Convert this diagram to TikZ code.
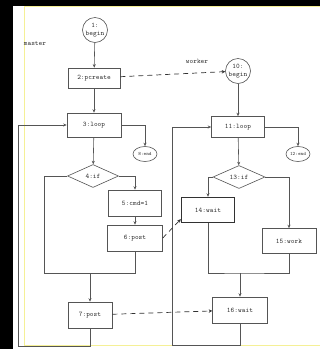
\documentclass[tikz,border=0pt]{standalone}
\usetikzlibrary{shapes, arrows.meta, positioning}
\definecolor{scanline}{RGB}{85, 85, 85}
\definecolor{scanink}{RGB}{50, 50, 50}
\definecolor{scanyellow}{RGB}{245, 240, 150}
\tikzset{
    stepbox/.style={
        rectangle, draw=scanline, fill=white, text=scanink, line width=0.6pt,
        font=\ttfamily\scriptsize, minimum width=54pt, minimum height=25pt, inner sep=1pt
    },
    testbox/.style={
        diamond, draw=scanline, fill=white, text=scanink, font=\ttfamily\scriptsize,
        line width=0.6pt, minimum width=51pt, minimum height=23pt, inner sep=0pt
    },
    startbox/.style={
        circle, draw=scanline, fill=white, text=scanink, align=center, line width=0.6pt,
        font=\ttfamily\scriptsize, minimum size=25pt, inner sep=0pt
    },
    stopbox/.style={
        ellipse, draw=scanline, fill=white, text=scanink, font=\ttfamily\tiny,
        line width=0.6pt, minimum width=24pt, minimum height=15pt, inner sep=0pt
    },
    arrow/.style={-{Stealth[length=3.5pt, width=3pt]}, line width=0.6pt, color=scanline},
    link/.style={line width=0.6pt, color=scanline},
    signal/.style={-{Stealth[length=3.5pt, width=3.5pt]}, dashed, dash pattern=on 5pt off 4pt, line width=0.7pt, color=scanink},
}
\begin{document}
\begin{tikzpicture}[x=1pt, y=-1pt]
                \useasboundingbox (0, 0) rectangle (320, 349);
                % Scan border
                \fill[black] (0, 0) rectangle (320, 349);
                \fill[white] (13, 6) rectangle (320, 349);
                \draw[scanyellow, line width=0.8pt] (320, 6) -- (24, 6) -- (24, 345) -- (320, 345);

                % Master
                \node[text=scanink, font=\ttfamily\scriptsize] (master) at (35, 44) {master};
                \node[startbox] (begin1) at (95, 30) {1:\\begin};
                \node[stepbox, minimum width=52pt, minimum height=20pt] (pcreate2) at (94, 78) {2:pcreate};
                \node[stepbox, minimum height=24pt] (loop3) at (94, 125) {3:loop};
                \node[stopbox] (end8) at (145, 154) {8:end};
                \node[testbox] (if4) at (93, 176) {4:if};
                \node[stepbox, minimum width=53pt, minimum height=26pt] (cmd5) at (135, 203) {5:cmd=1};
                \node[stepbox, minimum width=55pt, minimum height=26pt] (post6) at (135, 238) {6:post};
                \node[stepbox, minimum width=44pt, minimum height=26pt] (post7) at (90, 315) {7:post};
                \coordinate (mL) at (44, 273);
                \coordinate (mJ) at (90, 273);
                \coordinate (mB) at (18, 346);

                % Worker
                \node[text=scanink, font=\ttfamily\scriptsize] (worker) at (197, 61) {worker};
                \node[startbox] (begin10) at (238, 71) {10:\\begin};
                \node[stepbox, minimum width=53pt, minimum height=21pt] (loop11) at (238, 127) {11:loop};
                \node[stopbox] (end12) at (298, 154) {12:end};
                \node[testbox, minimum width=52pt, minimum height=22pt] (if13) at (239, 177) {13:if};
                \node[stepbox, minimum width=53pt, line width=1.4pt, draw=scanink] (wait14) at (208, 210) {14:wait};
                \node[stepbox] (work15) at (289, 241) {15:work};
                \node[stepbox, minimum width=55pt, minimum height=26pt] (wait16) at (240, 310) {16:wait};
                \coordinate (wJ) at (240, 273);
                \coordinate (wB) at (172, 345);

                % Master flow
                \draw[arrow] (begin1) -- (pcreate2);
                \draw[arrow] (pcreate2) -- (loop3);
                \draw[arrow] (loop3) -- (if4);
                \draw[arrow] (loop3.east) -| (end8);
                \draw[arrow] (if4.east) -| (cmd5);
                \draw[arrow] (cmd5) -- (post6);
                \draw[link] (if4.west) -| (mL) -| (post6);
                \draw[arrow] (mJ) -- (post7);
                \draw[arrow] (post7) |- (mB) |- (loop3.west);

                % Worker flow
                \draw[arrow] (begin10) -- (loop11);
                \draw[arrow] (loop11) -- (if13);
                \draw[arrow] (loop11.east) -| (end12);
                \draw[arrow] (if13.west) -| (wait14);
                \draw[arrow] (if13.east) -| (work15);
                \draw[link] (wait14) |- (wJ) -| (work15);
                \draw[arrow] (wJ) -- (wait16);
                \draw[arrow] (wait16) |- (wB) |- (loop11.west);

                % Signals
                \draw[signal] (pcreate2) -- (begin10);
                \draw[signal] (post6.east) -- ([yshift=4pt]wait14.south west);
                \draw[signal] (post7) -- (wait16);
            \end{tikzpicture}
\end{document}
